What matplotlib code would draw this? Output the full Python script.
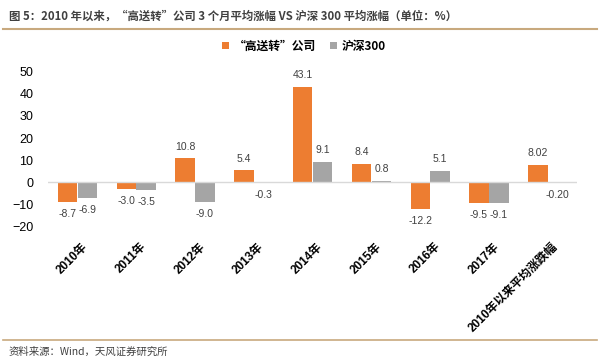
import matplotlib
matplotlib.use("Agg")
import matplotlib.pyplot as plt
import matplotlib.transforms as mtransforms
import numpy as np
from matplotlib.lines import Line2D

plt.rcParams['font.family'] = ['Liberation Sans', 'Noto Sans CJK SC', 'DejaVu Sans']

categories = ['2010年', '2011年', '2012年', '2013年', '2014年', '2015年', '2016年', '2017年', '2010年以来平均涨跌幅']
gsz = [-8.7, -3.0, 10.8, 5.4, 43.1, 8.4, -12.2, -9.5, 8.02]
hs300 = [-6.9, -3.5, -9.0, -0.3, 9.1, 0.8, 5.1, -9.1, -0.20]
gsz_lbl = ['-8.7', '-3.0', '10.8', '5.4', '43.1', '8.4', '-12.2', '-9.5', '8.02']
hs_lbl = ['-6.9', '-3.5', '-9.0', '-0.3', '9.1', '0.8', '5.1', '-9.1', '-0.20']
yticks = [-20, -10, 0, 10, 20, 30, 40, 50]

orange = '#ED7D31'
gray = '#A5A5A5'
tan = '#C8A97E'

fig = plt.figure(figsize=(6, 3.63), dpi=100)
ax = fig.add_axes([0.08, 0.3755, 0.882, 0.427])

x = np.arange(len(categories))
w = 0.33
b1 = ax.bar(x - w / 2 - 0.005, gsz, w, color=orange)
b2 = ax.bar(x + w / 2 + 0.005, hs300, w, color=gray)

for bars, vals, lbls in [(b1, gsz, gsz_lbl), (b2, hs300, hs_lbl)]:
    for r, v, s in zip(bars, vals, lbls):
        cx = r.get_x() + r.get_width() / 2
        ax.annotate(s, (cx, v), xytext=(0, 5 if v >= 0 else -5), textcoords='offset points',
                    ha='center', va='bottom' if v >= 0 else 'top', fontsize=7.5,
                    color='#404040', annotation_clip=False)

ax.set_xlim(-0.5, len(categories) - 0.5)
ax.set_ylim(-20, 50)
ax.set_yticks(yticks)
ax.tick_params(axis='y', length=0, labelsize=9, pad=10.5, colors='#000000')
ax.tick_params(axis='x', length=0, pad=10)
ax.set_xticks(x)
ax.set_xticklabels(categories, rotation=45, ha='right', rotation_mode='anchor',
                   fontsize=8.5, fontweight='bold')
shift = mtransforms.ScaledTranslation(4 / 100, 0, fig.dpi_scale_trans)
for lab in ax.get_xticklabels():
    lab.set_transform(lab.get_transform() + shift)
for sp in ax.spines.values():
    sp.set_visible(False)
ax.axhline(0, color='#D9D9D9', lw=1)

# title, rules and source
fig.text(0.015, 0.956, '图 5：2010 年以来，“高送转”公司 3 个月平均涨幅 VS 沪深 300 平均涨幅（单位：%）',
         fontsize=8.2, fontweight='bold', color='#404040', va='center',
         family=['Noto Sans CJK SC', 'DejaVu Sans'])
fig.add_artist(Line2D([0.005, 0.995], [0.92, 0.92], color=tan, lw=1.5))
fig.add_artist(Line2D([0.005, 0.995], [0.063, 0.063], color=tan, lw=1.2))
fig.text(0.015, 0.03, '资料来源：Wind，天风证券研究所', fontsize=7.5, color='#404040', va='center',
         family=['Noto Sans CJK SC', 'DejaVu Sans'])

leg = fig.legend([b1, b2], ['“高送转”公司', '沪深300'], loc='center', bbox_to_anchor=(0.507, 0.873),
                 ncol=2, frameon=False, handlelength=0.6, handleheight=0.6,
                 handletextpad=0.4, columnspacing=1.2,
                 prop={'family': ['Noto Sans CJK SC', 'DejaVu Sans'], 'weight': 'bold', 'size': 8.5})

fig.savefig('out.png', dpi=100)
